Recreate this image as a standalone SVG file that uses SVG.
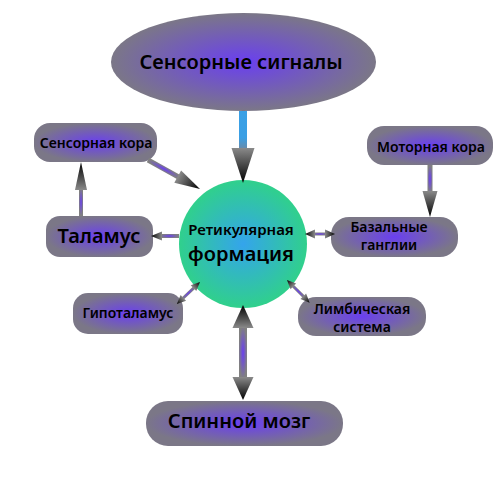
<svg xmlns="http://www.w3.org/2000/svg" width="500" height="500" viewBox="0 0 500 500">
<defs>
  <radialGradient id="boxGrad" cx="0.5" cy="0.5" r="0.5">
    <stop offset="0" stop-color="#6a3ff0"/>
    <stop offset="1" stop-color="#7b7787"/>
  </radialGradient>
  <radialGradient id="circGrad" cx="0.5" cy="0.5" r="0.5">
    <stop offset="0" stop-color="#34a4ec"/>
    <stop offset="1" stop-color="#30d08c"/>
  </radialGradient>
  <radialGradient id="shaftGrad" cx="0.5" cy="0.5" r="0.5">
    <stop offset="0" stop-color="#6a3ff0"/>
    <stop offset="1" stop-color="#808080"/>
  </radialGradient>
  <linearGradient id="blueShaft" x1="0" y1="0" x2="1" y2="0">
    <stop offset="0" stop-color="#3aa0e6"/>
    <stop offset="0.7" stop-color="#3a9fe4"/>
    <stop offset="1" stop-color="#6a8aa8"/>
  </linearGradient>
  <linearGradient id="headGrad" x1="0" y1="0" x2="1" y2="0">
    <stop offset="0" stop-color="#8a8a8a"/>
    <stop offset="1" stop-color="#000000"/>
  </linearGradient>
  <linearGradient id="headGradR" x1="1" y1="0" x2="0" y2="0">
    <stop offset="0" stop-color="#8a8a8a"/>
    <stop offset="1" stop-color="#000000"/>
  </linearGradient>
  <style>
    .box { fill: url(#boxGrad); }
    .t { font-family: "Noto Sans", "Open Sans", sans-serif; font-weight: 600; fill: #000; text-anchor: middle; }
    .s14 { font-size: 14px; }
    .s20 { font-size: 20px; }
    .shaft { fill: url(#shaftGrad); }
    .head { fill: url(#headGrad); }
    .headR { fill: url(#headGradR); }
  </style>
</defs>
<rect width="500" height="500" fill="#ffffff"/>

<g id="node-sensory-signals">
  <ellipse cx="243.5" cy="62" rx="132.5" ry="49" class="box"/>
  <text x="241" y="69" class="t s20">Сенсорные сигналы</text>
</g>
<g id="node-reticular">
  <circle cx="243" cy="244" r="64" fill="url(#circGrad)"/>
  <text x="241" y="235" class="t" font-size="15">Ретикулярная</text>
  <text x="241" y="261" class="t s20">формация</text>
</g>
<g id="node-sensory-cortex">
  <rect x="34" y="123" width="123" height="39" rx="16" class="box"/>
  <text x="96" y="148" class="t s14">Сенсорная кора</text>
</g>
<g id="node-thalamus">
  <rect x="46" y="216" width="107" height="41" rx="14" class="box"/>
  <text x="99" y="243" class="t s20">Таламус</text>
</g>
<g id="node-motor-cortex">
  <rect x="367" y="126" width="126" height="39" rx="17" class="box"/>
  <text x="431" y="152" class="t s14">Моторная кора</text>
</g>
<g id="node-basal-ganglia">
  <rect x="331" y="217" width="127" height="40" rx="18" class="box"/>
  <text x="389" y="232" class="t s14">Базальные</text>
  <text x="389" y="250" class="t s14">ганглии</text>
</g>
<g id="node-hypothalamus">
  <rect x="73" y="293" width="110" height="41" rx="15" class="box"/>
  <text x="128" y="318" class="t s14">Гипоталамус</text>
</g>
<g id="node-limbic">
  <rect x="298" y="297" width="128" height="39" rx="18" class="box"/>
  <text x="362" y="314" class="t s14">Лимбическая</text>
  <text x="362" y="332" class="t s14">система</text>
</g>
<g id="node-spinal-cord">
  <rect x="146" y="401" width="197" height="45" rx="22" class="box"/>
  <text x="239" y="428" class="t s20">Спинной мозг</text>
</g>

<g id="connectors">
  <g transform="translate(243,111) rotate(90)">
    <rect x="0" y="-4" width="38" height="8" fill="url(#blueShaft)"/>
    <polygon points="37,-11.5 72,0 37,11.5" class="head"/>
  </g>
  <g transform="translate(148,160) rotate(29.1)">
    <rect x="0" y="-2.5" width="36" height="5" class="shaft"/>
    <polygon points="34,-7 59.5,0 34,7" class="head"/>
  </g>
  <g transform="translate(81,216) rotate(-90)">
    <rect x="0" y="-2" width="28" height="4" class="shaft"/>
    <polygon points="26,-6 54,0 26,6" class="head"/>
  </g>
  <g transform="translate(179,236) rotate(180)">
    <rect x="0" y="-2" width="19" height="4" class="shaft"/>
    <polygon points="17,-4.5 28,0 17,4.5" class="head"/>
  </g>
  <g transform="translate(305,234)">
    <rect x="8" y="-1.5" width="14" height="3" class="shaft"/>
    <polygon points="10,-4.5 0,0 10,4.5" class="headR"/>
    <polygon points="20,-4.5 30,0 20,4.5" class="head"/>
  </g>
  <g transform="translate(430,165) rotate(90)">
    <rect x="0" y="-2.5" width="28" height="5" class="shaft"/>
    <polygon points="26,-7.5 52,0 26,7.5" class="head"/>
  </g>
  <g transform="translate(200,282) rotate(136.3)">
    <rect x="7" y="-1.5" width="18" height="3" class="shaft"/>
    <polygon points="9,-4 0,0 9,4" class="headR"/>
    <polygon points="23,-4 32,0 23,4" class="head"/>
  </g>
  <g transform="translate(287,280) rotate(45)">
    <rect x="7" y="-1.5" width="18" height="3" class="shaft"/>
    <polygon points="9,-4 0,0 9,4" class="headR"/>
    <polygon points="23,-4 32,0 23,4" class="head"/>
  </g>
  <g transform="translate(243,305) rotate(90)">
    <rect x="21" y="-4" width="53" height="8" class="shaft"/>
    <polygon points="23,-10.5 0,0 23,10.5" class="headR"/>
    <polygon points="72,-10.5 95,0 72,10.5" class="head"/>
  </g>
</g>
</svg>
